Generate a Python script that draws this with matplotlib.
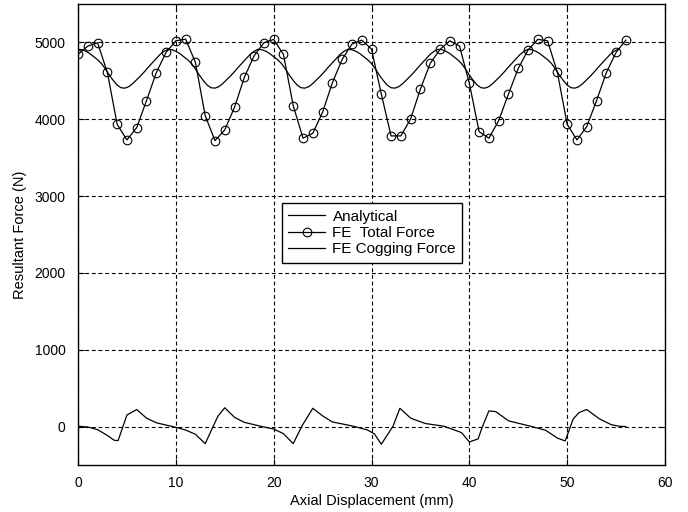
import numpy as np
import matplotlib
matplotlib.use("Agg")
import matplotlib.pyplot as plt

plt.rcParams['font.family'] = ['Liberation Sans', 'DejaVu Sans']

# FE total force (circles, every 1 mm)
x_total = list(range(0, 57))
y_total = [4844, 4952, 4995, 4610, 3935, 3731, 3891, 4242, 4605, 4870,
           5021, 5043, 4740, 4047, 3722, 3861, 4156, 4545, 4826, 4995,
           5039, 4844, 4177, 3753, 3818, 4091, 4475, 4779, 4978, 5030,
           4913, 4329, 3783, 3783, 4004, 4394, 4727, 4909, 5021, 4952,
           4468, 3839, 3753, 3982, 4329, 4662, 4900, 5039, 5021, 4610,
           3935, 3731, 3904, 4242, 4605, 4870, 5030]

# Analytical curve (read every 0.4 mm)
x_analytical = np.round(np.arange(0, 55.2 + 1e-9, 0.4), 2)
y_analytical = [
    4910, 4905, 4885, 4855, 4815, 4775, 4725, 4655, 4575, 4505, 4445, 4410,
    4405, 4425, 4465, 4515, 4565, 4620, 4680, 4735, 4790, 4845, 4885,
    4910, 4905, 4885, 4855, 4815, 4775, 4725, 4655, 4575, 4505, 4445, 4410,
    4405, 4425, 4465, 4515, 4565, 4620, 4680, 4735, 4790, 4845, 4885,
    4910, 4905, 4885, 4855, 4815, 4775, 4725, 4655, 4575, 4505, 4445, 4410,
    4405, 4425, 4465, 4515, 4565, 4620, 4680, 4735, 4790, 4845, 4885,
    4910, 4905, 4885, 4855, 4815, 4775, 4725, 4655, 4575, 4505, 4445, 4410,
    4405, 4425, 4465, 4515, 4565, 4620, 4680, 4735, 4790, 4845, 4885,
    4910, 4905, 4885, 4855, 4815, 4775, 4725, 4655, 4575, 4505, 4445, 4410,
    4405, 4425, 4465, 4515, 4565, 4620, 4680, 4735, 4790, 4845, 4885,
    4910, 4905, 4885, 4855, 4815, 4775, 4725, 4655, 4575, 4505, 4445, 4410,
    4405, 4425, 4465, 4515, 4565, 4620, 4680, 4735, 4790, 4845, 4885,
    4910]

# FE cogging force
x_cog = [0, 1, 2, 3, 3.7, 4.1, 5, 6, 7, 8,
         9, 10, 11, 12, 13, 14.3, 15, 16, 17, 18,
         19, 20, 21, 22, 22.9, 24, 25, 26, 27, 28.3,
         29.6, 30.3, 31, 32.2, 32.9, 34, 35.5, 37.4, 39.2, 40,
         40.9, 41.3, 42, 42.7, 44, 46.4, 47.8, 49, 49.8, 50.6,
         51.2, 52, 53.3, 54.5, 55.3, 56]
y_cog = [5, -5, -40, -115, -178, -182, 150, 222, 110, 50,
         20, -10, -45, -100, -222, 135, 245, 120, 55, 25,
         -5, -32, -92, -222, 10, 238, 140, 60, 35, 0,
         -45, -95, -230, 5, 238, 110, 40, 5, -78, -200,
         -160, -13, 204, 195, 75, 0, -48, -150, -187, 95,
         182, 222, 100, 25, 5, 0]

x_ticks = [0, 10, 20, 30, 40, 50, 60]
y_ticks = [0, 1000, 2000, 3000, 4000, 5000]

fig = plt.figure(figsize=(6.88, 5.12), dpi=100)
ax = fig.add_axes([78 / 688, 1 - 465 / 512, 587 / 688, 461 / 512])

ax.plot(x_analytical, y_analytical, color='black', lw=0.9, label='Analytical')
ax.plot(x_total, y_total, color='black', lw=0.9, marker='o', markersize=6.2,
        markerfacecolor='none', markeredgecolor='black', markeredgewidth=0.8,
        label='FE  Total Force')
ax.plot(x_cog, y_cog, color='black', lw=0.9, label='FE Cogging Force')

ax.set_xlim(0, 60)
ax.set_ylim(-500, 5500)
ax.set_xticks(x_ticks)
ax.set_yticks(y_ticks)
ax.tick_params(direction='in', top=True, right=True, length=4, labelsize=10,
               width=0.8)
ax.tick_params(axis='y', pad=9)
ax.tick_params(axis='x', pad=8)
ax.grid(True, color='black', linestyle=(0, (3.5, 2.5)), linewidth=0.8)
for s in ax.spines.values():
    s.set_linewidth(1.0)
    s.set_color('black')

ax.set_xlabel('Axial Displacement (mm)', fontsize=10.5, labelpad=3)
ax.set_ylabel('Resultant Force (N)', fontsize=10.5, labelpad=5)

leg = ax.legend(loc='center', bbox_to_anchor=(0.501, 0.503), fontsize=11,
                frameon=True, fancybox=False, framealpha=1, edgecolor='black',
                handlelength=2.4, labelspacing=0.15, borderpad=0.42,
                handletextpad=0.5, borderaxespad=0)
leg.get_frame().set_linewidth(1.0)

fig.savefig('out.png', dpi=100)
